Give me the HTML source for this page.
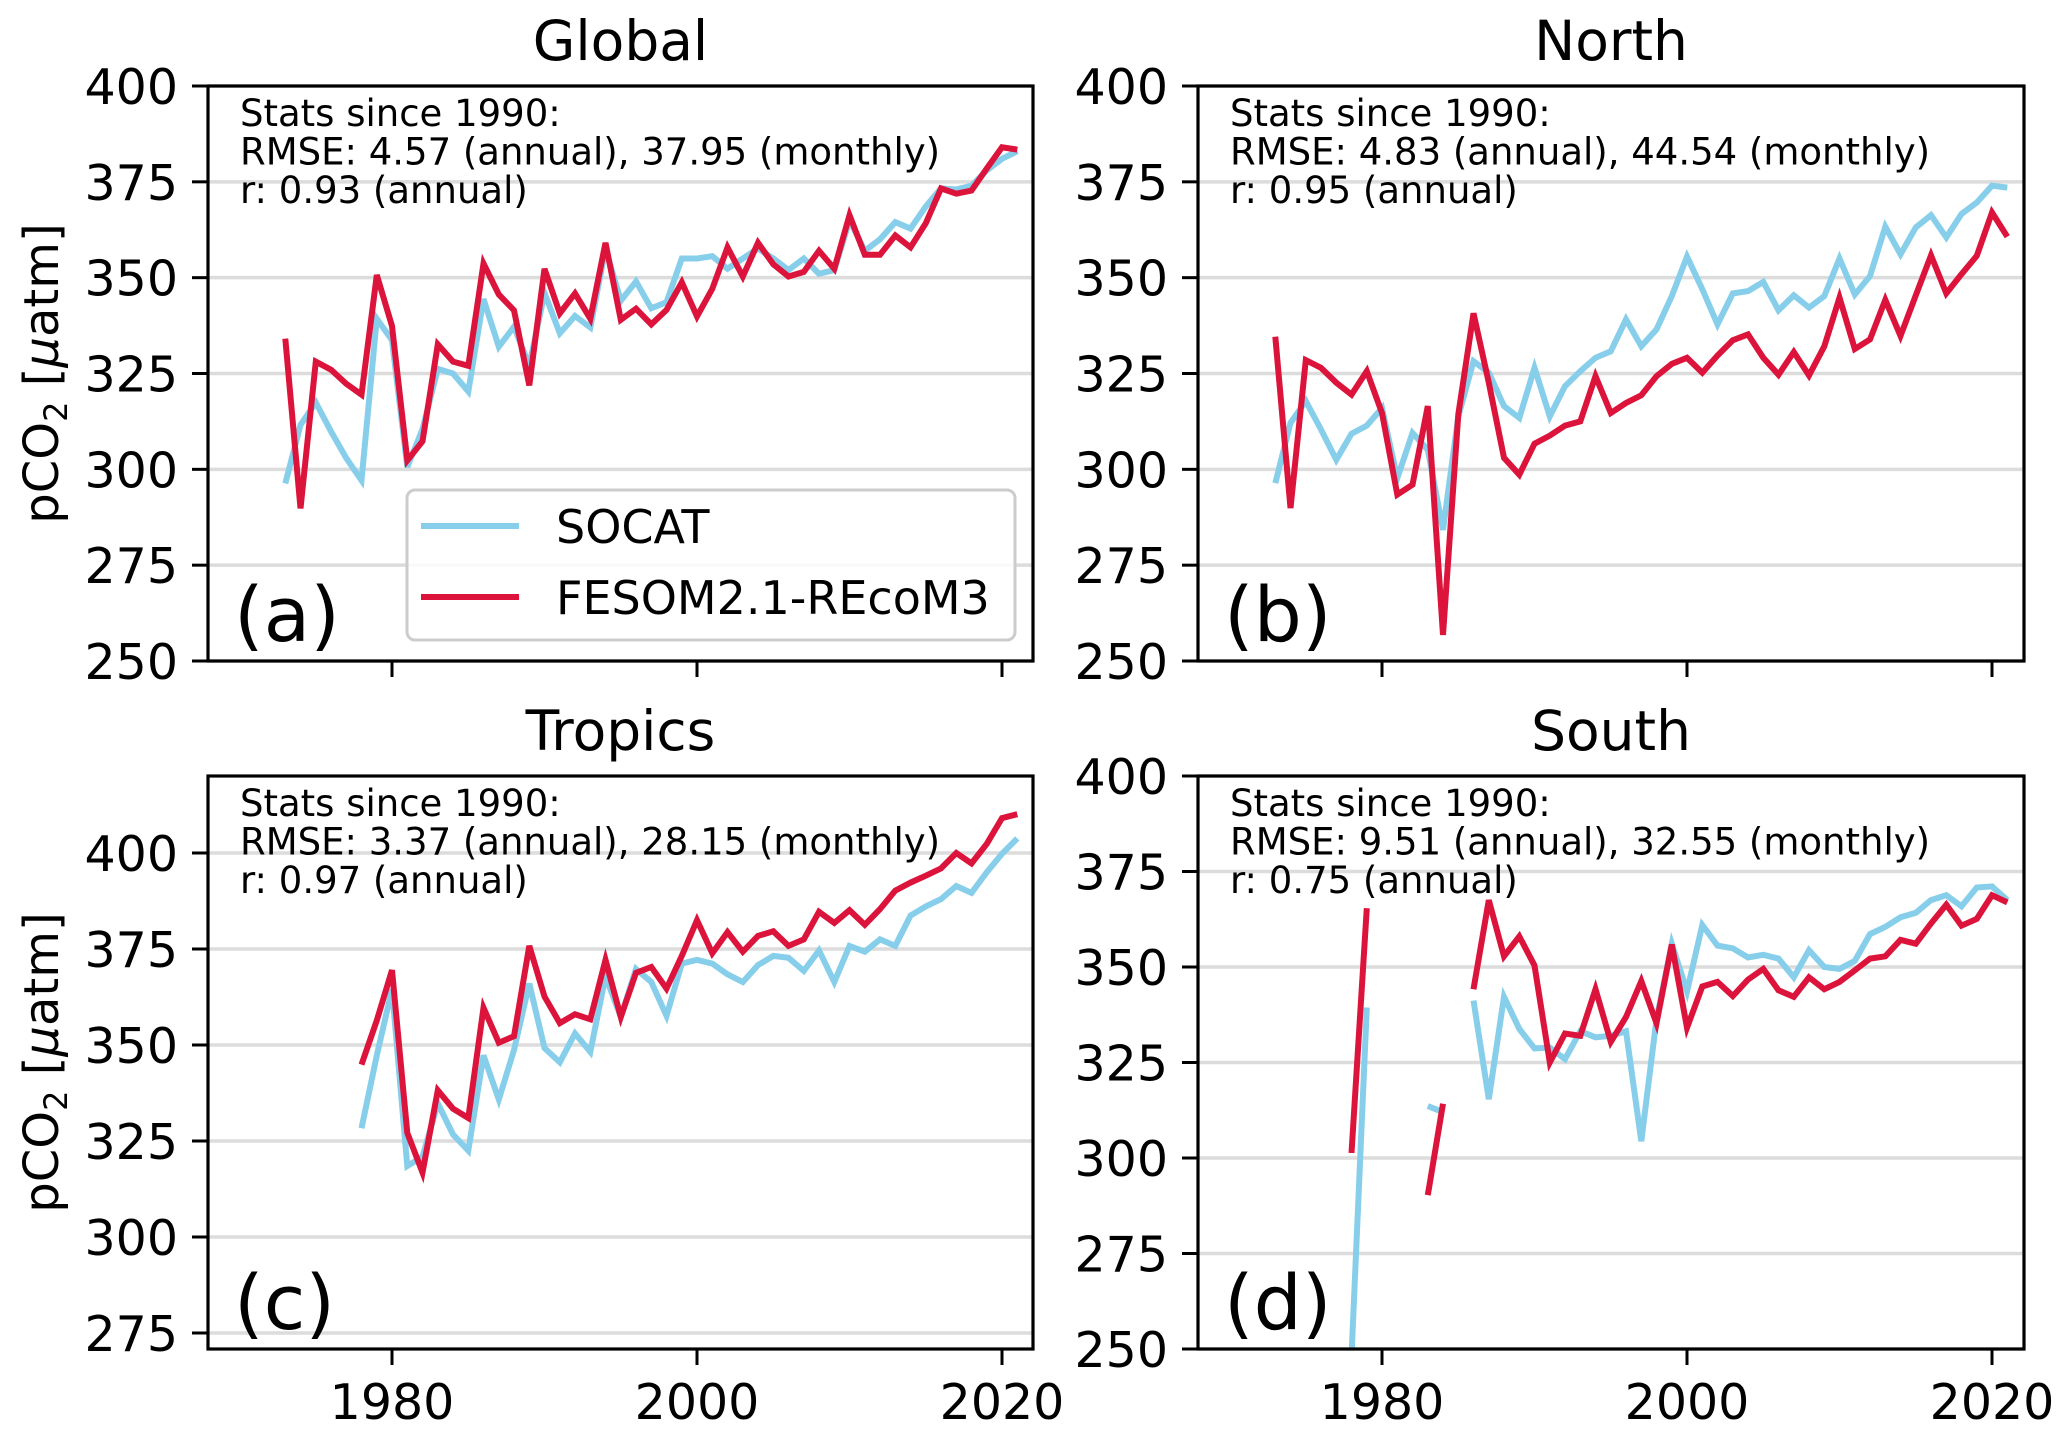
<!DOCTYPE html>
<html><head><meta charset="utf-8"><style>
html,body{margin:0;padding:0;background:#fff;}
svg{display:block;font-family:"DejaVu Sans","Liberation Sans",sans-serif;}
</style></head><body>
<svg id="fig" width="2067" height="1437" viewBox="0 0 2067 1437" xmlns="http://www.w3.org/2000/svg"></svg>
<script>
const years = []; for (let y = 1973; y <= 2021; y++) years.push(y);
const xTicks = [1980, 2000, 2020];
const yTicksMain = [250, 275, 300, 325, 350, 375, 400];
const yTicksTropics = [275, 300, 325, 350, 375, 400];
const panelTitles = ["Global", "North", "Tropics", "South"];
const panelLetters = ["(a)", "(b)", "(c)", "(d)"];
const statsRmse = ["4.57 (annual), 37.95 (monthly)", "4.83 (annual), 44.54 (monthly)", "3.37 (annual), 28.15 (monthly)", "9.51 (annual), 32.55 (monthly)"];
const statsR = ["0.93", "0.95", "0.97", "0.75"];
const N = null;
const globalSocat = [296.3,311.6,317.4,309.9,302.9,297.1,339.3,333.7,300.6,310.5,326.2,325,320.3,344.4,332,337.2,327,346,335.5,340,337,357.6,344,349,342,343.6,355,355,355.6,352.3,355,357.6,355,352,355,351,352,365,357,360,364.5,362.8,368.6,373.3,373,374,378,381,383];
const globalModel = [334.1,289.8,328.1,326.0,322.3,319.5,350.7,337.4,302.3,307.3,332.6,328.1,327.0,353.7,345.6,341.5,321.9,352.3,340.7,345.9,339.3,359.1,339.0,341.9,337.8,341.6,348.8,339.9,347.1,357.9,350.3,359.1,353.5,350.3,351.5,357.0,352.3,366.3,356.0,356.0,361.0,357.9,364.2,373.3,371.9,372.7,378.5,384.0,383.4];
const northSocat = [296.4,312.1,317.8,310.4,302.5,309.3,311.4,316.0,297.7,309.5,305.1,284.2,313.8,328.2,325.2,316.5,313.4,326.5,313.8,321.7,325.6,329.1,330.8,339.1,332.1,336.5,345.2,355.5,347.0,337.8,345.9,346.5,348.9,341.5,345.4,342.2,345.2,355.0,345.6,350.4,363.3,356.1,363.1,366.3,360.5,366.6,369.6,374.0,373.5];
const northModel = [334.6,289.9,328.5,326.5,322.6,319.5,325.6,314.7,293.4,296.0,316.5,256.8,314.3,340.7,322.6,303.0,298.6,306.7,308.8,311.4,312.5,324.3,314.7,317.3,319.3,324.3,327.5,329.1,325.2,329.7,333.7,335.2,329.1,324.7,330.6,324.5,332.1,344.8,331.4,333.9,344.2,334.8,345.4,355.8,345.9,350.9,355.7,367.0,360.7];
const tropicsSocat = [N,N,N,N,N,328.3,347.3,364.5,318.5,320.9,334.8,326.7,322.5,347.3,335.8,348.7,366.0,349.2,345.5,353.0,348.2,367.9,357.3,369.8,366.4,357.6,371.2,372.2,371.2,368.4,366.4,370.8,373.2,372.7,369.3,374.6,366.4,375.8,374.3,377.5,375.8,383.7,386.1,388.0,391.4,389.6,395.0,399.8,403.8];
const tropicsModel = [N,N,N,N,N,344.9,356.4,369.5,327.1,316.8,338.2,333.4,331.0,359.7,350.6,352.3,375.8,362.6,355.7,358.0,356.7,372.2,357.3,368.8,370.3,364.7,373.2,382.5,373.9,379.4,374.3,378.4,379.6,375.8,377.5,384.7,381.8,385.1,381.3,385.4,390.2,392.3,394.1,396.0,400.0,397.3,402.4,409.1,410.1];
const southSocat = [N,N,N,N,N,248,339.4,N,N,N,313.6,312.0,N,341.2,315.4,342.2,333.8,328.7,328.9,325.9,333.2,331.6,332.0,333.2,304.4,336.3,356.1,343.6,361.0,355.6,354.9,352.5,353.2,352.2,347.3,354.4,350.0,349.5,351.6,358.6,360.5,363.0,364.2,367.5,368.8,365.9,370.8,371.1,367.5];
const southModel = [N,N,N,N,N,301.3,365.4,N,N,N,290.3,314.2,N,344.2,367.5,352.8,358.0,350.4,325.0,332.6,332.0,344.2,330.4,336.9,346.3,335.3,355.9,334.1,344.9,346.1,342.4,346.7,349.5,343.9,342.2,347.3,344.2,346.1,349.1,352.2,352.8,357.1,356.1,361.4,366.3,360.8,362.6,368.8,366.9];
const socatSeries = [globalSocat, northSocat, tropicsSocat, southSocat];
const modelSeries = [globalModel, northModel, tropicsModel, southModel];
const seriesNames = ["SOCAT", "FESOM2.1-REcoM3"];

const NS = "http://www.w3.org/2000/svg";
const svg = document.getElementById("fig");
function mk(tag, attrs, parent) {
  const e = document.createElementNS(NS, tag);
  for (const k in attrs) e.setAttribute(k, attrs[k]);
  (parent || svg).appendChild(e);
  return e;
}
const panels = [
  {L:208, R:1033, T:86, B:661, y0:250, y1:400, yA:661, yB:86, x1980:392, ticks:yTicksMain},
  {L:1198, R:2024, T:86, B:661, y0:250, y1:400, yA:661, yB:86, x1980:1382, ticks:yTicksMain},
  {L:208, R:1033, T:776, B:1349, y0:275, y1:400, yA:1333, yB:853, x1980:392, ticks:yTicksTropics},
  {L:1198, R:2024, T:776, B:1349, y0:250, y1:400, yA:1349, yB:776, x1980:1382, ticks:yTicksMain}
];
const PXYR = 15.25;
panels.forEach((p, i) => {
  const g = mk("g", {});
  
  
  const xs = yr => p.x1980 + (yr - 1980) * PXYR;
  const ys = v => p.yA + (v - p.y0) * (p.yB - p.yA) / (p.y1 - p.y0);
  const cid = "clip" + i;
  const cp = mk("clipPath", {id: cid}, g);
  mk("rect", {x: p.L, y: p.T, width: p.R - p.L, height: p.B - p.T}, cp);
  p.ticks.forEach(t => {
    const gl = mk("line", {x1: p.L, x2: p.R, y1: ys(t), y2: ys(t), stroke: "#dcdcdc", "stroke-width": 3.5}, g);
    
    
  });
  [[socatSeries[i], "#87ceeb", "socat"], [modelSeries[i], "#dc143c", "model"]].forEach(([arr, col, nm]) => {
    let d = "", pen = false;
    arr.forEach((v, k) => {
      if (v === null) { pen = false; return; }
      d += (pen ? "L" : "M") + xs(years[k]).toFixed(1) + "," + ys(v).toFixed(1);
      pen = true;
    });
    const pl = mk("path", {d: d, fill: "none", stroke: col, "stroke-width": 6, "stroke-linejoin": "miter", "clip-path": "url(#" + cid + ")"}, g);
    
    
  });
  const fr = mk("rect", {x: p.L, y: p.T, width: p.R - p.L, height: p.B - p.T, fill: "none", stroke: "#000", "stroke-width": 3.2}, g);
  
  
  p.ticks.forEach(t => {
    mk("line", {x1: p.L - 16, x2: p.L, y1: ys(t), y2: ys(t), stroke: "#000", "stroke-width": 3}, g);
    const tl = mk("text", {x: p.L - 30, y: ys(t) + 18, "text-anchor": "end", "font-size": 49}, g);
    tl.textContent = t;
    
    
  });
  xTicks.forEach(t => {
    mk("line", {x1: xs(t), x2: xs(t), y1: p.B, y2: p.B + 16, stroke: "#000", "stroke-width": 3}, g);
    if (i >= 2) {
      const tl = mk("text", {x: xs(t), y: p.B + 70, "text-anchor": "middle", "font-size": 49}, g);
      tl.textContent = t;
      
      
    }
  });
  const ti = mk("text", {x: (p.L + p.R) / 2, y: p.T - 26, "text-anchor": "middle", "font-size": 55}, g);
  ti.textContent = panelTitles[i];
  
  
  const lines = ["Stats since 1990:", "RMSE: " + statsRmse[i], "r: " + statsR[i] + " (annual)"];
  lines.forEach((s, k) => {
    const st = mk("text", {x: p.L + 32, y: p.T + 40 + k * 38.5, "font-size": 37}, g);
    st.textContent = s;
    
    
  });
  const lt = mk("text", {x: p.L + 26, y: p.B - 20, "font-size": 76}, g);
  lt.textContent = panelLetters[i];
  
  
  if (i % 2 === 0) {
    const cy = (p.T + p.B) / 2;
    const yl = mk("text", {x: 0, y: 0, "text-anchor": "middle", "font-size": 48, transform: "translate(58," + cy + ") rotate(-90)"}, g);
    yl.innerHTML = 'pCO<tspan font-size="32" dy="9">2</tspan><tspan dy="-9"> [</tspan><tspan font-style="italic">μ</tspan>atm]';
    
    
  }
});
const lg = mk("g", {});


mk("rect", {x: 407, y: 490, width: 608, height: 150, rx: 8, fill: "#fff", "fill-opacity": 0.85, stroke: "#cccccc", "stroke-width": 3}, lg);
[["#87ceeb", 526], ["#dc143c", 597]].forEach(([c, y], k) => {
  const ll = mk("line", {x1: 421, x2: 519, y1: y, y2: y, stroke: c, "stroke-width": 6}, lg);
  
  
  const lt = mk("text", {x: 556, y: y + 17, "font-size": 46}, lg);
  lt.textContent = seriesNames[k];
  
  
});
</script>
</body></html>
